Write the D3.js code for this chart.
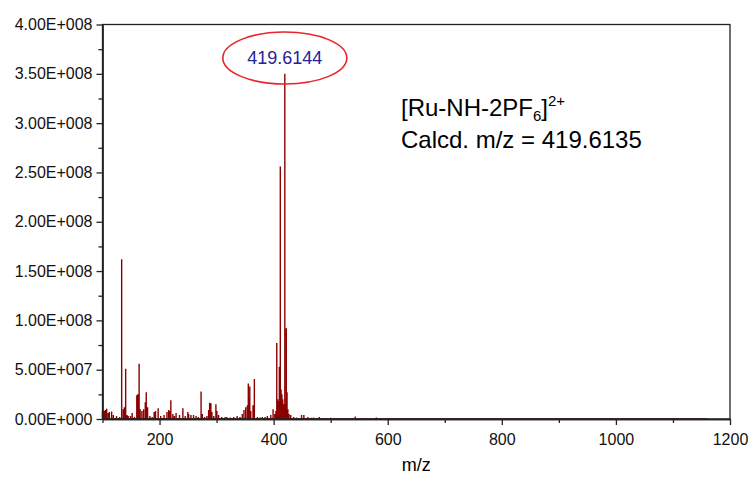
<!DOCTYPE html>
<html lang="en">
<head>
<meta charset="utf-8">
<title>ESI-MS spectrum</title>
<script src="https://cdn.jsdelivr.net/npm/d3@7"></script>
<style>
  body { margin: 0; background: #fff; }
  svg text { font-family: "Liberation Sans", Arial, sans-serif; fill: #000; }
  .axis path, .axis line { stroke: #222; stroke-width: 1.3; }
  .axis text { font-size: 16px; fill: #111; }
</style>
</head>
<body>
<svg width="752" height="477"></svg>
<script>
// peaks: m/z and intensity (counts)
var mz = [100, 102.6, 105, 107.3, 110, 112, 116, 119, 124.6, 130, 133.6, 136.5, 138.3, 140.6, 143, 145,
  149, 152, 156, 160.1, 161.9, 164.2, 166, 169, 172, 175, 176.7, 179, 183, 187, 190.5, 193, 197.6,
  202, 208, 213, 216, 217.5, 219.8, 223.3, 226, 229, 235, 240.9, 245, 249.6, 251, 255, 259.6, 264,
  268, 272.8, 275, 279, 283, 286, 287.8, 290, 291.8, 295, 298.8, 300.5, 303.5, 309, 315, 318, 324,
  330, 336, 341, 345, 348, 351, 354, 355.6, 357, 358.2, 360, 363.9, 366.2, 371.5, 376, 380, 385,
  389, 395, 399, 402, 404, 405.5, 407, 408.5, 410, 411.7, 413, 414.5, 416, 417.5, 419.6, 421, 422.2,
  423.5, 425, 427, 430, 435, 440, 445, 449, 453, 460, 466, 470, 476, 480, 490, 500, 507, 515, 530,
  543, 560, 580, 600, 620, 650, 680, 700, 740, 780, 820, 860, 900, 950, 1000, 1050, 1100, 1160];
var intensity = [8e6, 8e6, 9e6, 10.4e6, 6e6, 7e6, 7.5e6, 4e6, 3e6, 2e6, 162e6, 10e6, 12e6, 51e6, 4e6, 3e6,
  3e6, 6e6, 2e6, 24e6, 25e6, 56e6, 10e6, 8e6, 10e6, 17e6, 27e6, 12e6, 3e6, 2e6, 7e6, 8e6, 11e6,
  3e6, 4e6, 7e6, 9e6, 8e6, 19e6, 5e6, 3e6, 6e6, 4e6, 11e6, 3e6, 7e6, 5e6, 4e6, 4e6, 3e6,
  2e6, 28e6, 5e6, 2e6, 3e6, 9e6, 16.5e6, 16e6, 7e6, 3e6, 15e6, 8e6, 4e6, 2e6, 2e6, 2e6, 1.5e6,
  2e6, 3e6, 2e6, 5e6, 9e6, 12e6, 14e6, 36e6, 21e6, 33e6, 8e6, 14e6, 40.6e6, 2e6, 1.5e6, 2e6, 2e6,
  3e6, 4e6, 10e6, 5e6, 8e6, 77e6, 20e6, 18e6, 53e6, 256e6, 30e6, 25e6, 20e6, 15e6, 350e6, 15e6, 92e6,
  27e6, 10e6, 5e6, 4e6, 2e6, 1.5e6, 1e6, 4e6, 4e6, 2e6, 1.2e6, 1.5e6, 1e6, 2e6, 1e6, 1.2e6, 1e6, 1e6, 0.8e6,
  2.5e6, 1e6, 1.5e6, 1e6, 0.8e6, 1e6, 0.8e6, 0.6e6, 0.6e6, 0.5e6, 0.6e6, 0.5e6, 0.5e6, 0.5e6, 0.5e6, 0.4e6, 0.4e6, 0.4e6];

var xTicks = [200, 400, 600, 800, 1000, 1200];
var xMinorTicks = [100, 300, 500, 700, 900, 1100];
var yTicks = [0, 5e7, 1e8, 1.5e8, 2e8, 2.5e8, 3e8, 3.5e8, 4e8];
var yMinorTicks = [2.5e7, 7.5e7, 1.25e8, 1.75e8, 2.25e8, 2.75e8, 3.25e8, 3.75e8];

var peakLabel = "419.6144";
var peakMz = 419.6144;

var svg = d3.select("svg");
var margin = {left: 102.5, right: 22, top: 24.5, bottom: 58};
var width = +svg.attr("width"), height = +svg.attr("height");

var x = d3.scaleLinear().domain([100, 1200]).range([margin.left, width - margin.right]);
var y = d3.scaleLinear().domain([0, 4e8]).range([height - margin.bottom, margin.top]);

// E-notation like the original software
function sci(d) {
  if (d === 0) return "0.00E+000";
  var e = Math.floor(Math.log10(d));
  var m = d / Math.pow(10, e);
  return m.toFixed(2) + "E+" + String(e).padStart(3, "0");
}

// spectrum: sticks joined along the baseline
var pts = [];
mz.forEach(function(m, i) {
  pts.push([m, 0]); pts.push([m, intensity[i]]); pts.push([m, 0]);
});
var line = d3.line().x(function(d) { return x(d[0]); }).y(function(d) { return y(d[1]); });
svg.append("path")
  .datum(pts)
  .attr("d", line)
  .attr("fill", "none")
  .attr("stroke", "#8b0000")
  .attr("stroke-width", 1.4);

// frame
svg.append("rect")
  .attr("x", x(100)).attr("y", y(4e8))
  .attr("width", x(1200) - x(100)).attr("height", y(0) - y(4e8))
  .attr("fill", "none").attr("stroke", "#222").attr("stroke-width", 1.3);

// axes
svg.append("g").attr("class", "axis")
  .attr("transform", "translate(0," + y(0) + ")")
  .call(d3.axisBottom(x).tickValues(xTicks).tickSize(6).tickPadding(9).tickFormat(d3.format("d")).tickSizeOuter(0));
svg.append("g").attr("class", "axis")
  .attr("transform", "translate(0," + y(0) + ")")
  .call(d3.axisBottom(x).tickValues(xMinorTicks).tickSize(4).tickFormat("").tickSizeOuter(0));
svg.append("g").attr("class", "axis")
  .attr("transform", "translate(" + x(100) + ",0)")
  .call(d3.axisLeft(y).tickValues(yTicks).tickSize(6).tickPadding(4).tickFormat(sci).tickSizeOuter(0));
svg.append("g").attr("class", "axis")
  .attr("transform", "translate(" + x(100) + ",0)")
  .call(d3.axisLeft(y).tickValues(yMinorTicks).tickSize(4).tickFormat("").tickSizeOuter(0));

svg.append("text")
  .attr("x", (x(100) + x(1200)) / 2).attr("y", 471)
  .attr("text-anchor", "middle").style("font-size", "18px")
  .text("m/z");

// highlighted peak
svg.append("ellipse")
  .attr("cx", x(peakMz)).attr("cy", 58)
  .attr("rx", 62).attr("ry", 26)
  .attr("fill", "none").attr("stroke", "#e8262a").attr("stroke-width", 1.6);
svg.append("text")
  .attr("x", x(peakMz)).attr("y", 64)
  .attr("text-anchor", "middle")
  .style("font-size", "18px").style("fill", "#24249a")
  .text(peakLabel);

// formula note
var note = svg.append("text").attr("x", 401).attr("y", 116).style("font-size", "24px");
note.append("tspan").text("[Ru-NH-2PF");
note.append("tspan").attr("dy", 5).style("font-size", "15px").text("6");
note.append("tspan").attr("dy", -5).text("]");
note.append("tspan").attr("dy", -10).style("font-size", "15px").text("2+");
svg.append("text").attr("x", 401).attr("y", 148).style("font-size", "24px")
  .text("Calcd. m/z = 419.6135");
</script>
</body>
</html>
